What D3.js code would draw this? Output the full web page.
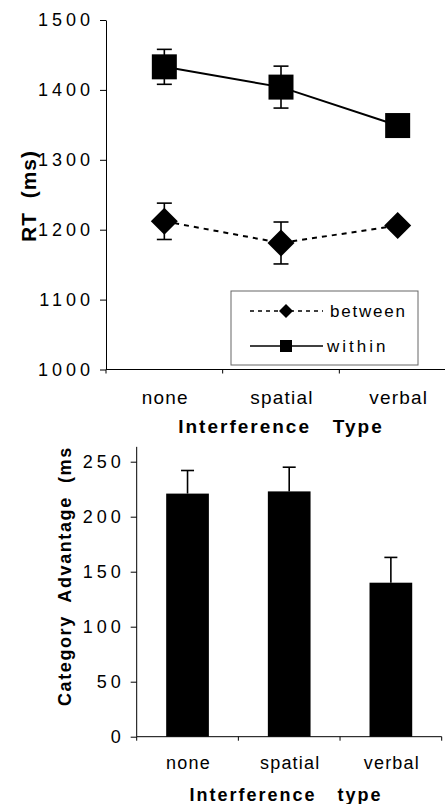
<!DOCTYPE html>
<html><head><meta charset="utf-8">
<script src="https://cdn.jsdelivr.net/npm/d3@7"></script>
<style>
html,body{margin:0;padding:0;background:#fff;}
svg{display:block;font-family:"Liberation Sans",Arial,sans-serif;}
text{white-space:pre;}
</style></head>
<body>
<script>
// ---- data ----
const categories = ["none", "spatial", "verbal"];
const withinRT = [1433, 1404, 1349];
const withinErr = [25, 30, 5];
const betweenRT = [1212, 1181, 1206];
const betweenErr = [26, 30, 7];
const rtTicks = [1000, 1100, 1200, 1300, 1400, 1500];
const advantage = [221, 223, 140];
const advantageErr = [21, 22, 23];
const advTicks = [0, 50, 100, 150, 200, 250];

const W = 445, H = 804;
const svg = d3.select("body").append("svg").attr("width", W).attr("height", H);

const tickFont = {size: 18, ls: 4};

// ================= TOP CHART =================
const topG = svg.append("g");
const x1 = d3.scaleBand().domain(categories).range([106, 456]);
const y1 = d3.scaleLinear().domain([1000, 1500]).range([369.5, 20]);

const ya1 = topG.append("g").attr("transform", "translate(106,0)")
  .call(d3.axisLeft(y1).tickValues(rtTicks).tickSize(6).tickSizeOuter(0).tickFormat(d3.format("d")));
ya1.select(".domain").attr("stroke", "#000");
ya1.selectAll(".tick line").attr("stroke", "#000");
ya1.selectAll(".tick text").attr("x", -12).attr("font-size", tickFont.size)
  .attr("letter-spacing", tickFont.ls).attr("fill", "#000");
ya1.attr("font-family", null).attr("font-size", null);

topG.append("line").attr("x1", 106).attr("x2", W).attr("y1", y1(1000)).attr("y2", y1(1000)).attr("stroke", "#000");
topG.selectAll(".xt").data(categories).enter().append("line")
  .attr("x1", d => x1(d)).attr("x2", d => x1(d))
  .attr("y1", y1(1000)).attr("y2", y1(1000) + 4).attr("stroke", "#000");
topG.selectAll(".xl").data(categories).enter().append("text")
  .attr("x", d => x1(d) + x1.bandwidth() / 2 + 1).attr("y", 404)
  .attr("text-anchor", "middle").attr("font-size", 19).attr("letter-spacing", 1.2)
  .text(d => d);
topG.append("text").attr("x", 281).attr("y", 433).attr("text-anchor", "middle")
  .attr("font-size", 19).attr("font-weight", "bold").attr("letter-spacing", 2)
  .text("Interference   Type");
topG.append("text").attr("transform", "translate(36,196) rotate(-90)")
  .attr("text-anchor", "middle").attr("font-size", 21).attr("font-weight", "bold").attr("letter-spacing", 1)
  .text("RT  (ms)");

const cx = i => x1(categories[i]) + x1.bandwidth() / 2;
const diamond = (r) => `M0,${-r}L${r},0L0,${r}L${-r},0Z`;

function errBars(vals, errs, cap) {
  vals.forEach((v, i) => {
    const g = topG.append("g").attr("stroke", "#000").attr("stroke-width", 1.6);
    g.append("line").attr("x1", cx(i)).attr("x2", cx(i)).attr("y1", y1(v + errs[i])).attr("y2", y1(v - errs[i]));
    g.append("line").attr("x1", cx(i) - cap).attr("x2", cx(i) + cap).attr("y1", y1(v + errs[i])).attr("y2", y1(v + errs[i]));
    g.append("line").attr("x1", cx(i) - cap).attr("x2", cx(i) + cap).attr("y1", y1(v - errs[i])).attr("y2", y1(v - errs[i]));
  });
}
errBars(withinRT, withinErr, 7.5);
errBars(betweenRT, betweenErr, 7.5);

const line = d3.line().x((d, i) => cx(i)).y(d => y1(d));
topG.append("path").datum(withinRT).attr("d", line).attr("fill", "none").attr("stroke", "#000").attr("stroke-width", 2);
topG.append("path").datum(betweenRT).attr("d", line).attr("fill", "none").attr("stroke", "#000").attr("stroke-width", 2).attr("stroke-dasharray", "5,5");

topG.selectAll(".sq").data(withinRT).enter().append("rect")
  .attr("x", (d, i) => cx(i) - 12.5).attr("y", d => y1(d) - 12.5).attr("width", 25).attr("height", 25).attr("fill", "#000");
topG.selectAll(".dm").data(betweenRT).enter().append("path")
  .attr("transform", (d, i) => `translate(${cx(i)},${y1(d)})`).attr("d", diamond(13.5)).attr("fill", "#000");

const lg = topG.append("g");
lg.append("rect").attr("x", 231).attr("y", 291).attr("width", 187).attr("height", 74)
  .attr("fill", "#fff").attr("stroke", "#666").attr("stroke-width", 1);
lg.append("line").attr("x1", 250).attr("x2", 323).attr("y1", 311).attr("y2", 311)
  .attr("stroke", "#000").attr("stroke-width", 1.6).attr("stroke-dasharray", "4,4");
lg.append("path").attr("transform", "translate(286,311)").attr("d", diamond(7)).attr("fill", "#000");
lg.append("text").attr("x", 330).attr("y", 317).attr("font-size", 17).attr("letter-spacing", 1.8).text("between");
lg.append("line").attr("x1", 250).attr("x2", 323).attr("y1", 346).attr("y2", 346)
  .attr("stroke", "#000").attr("stroke-width", 1.6);
lg.append("rect").attr("x", 280).attr("y", 340).attr("width", 12).attr("height", 12).attr("fill", "#000");
lg.append("text").attr("x", 327).attr("y", 352).attr("font-size", 17).attr("letter-spacing", 3).text("within");

// ================= BOTTOM CHART =================
const botG = svg.append("g");
const x2 = d3.scaleBand().domain(categories).range([136.7, 441.7]).paddingInner(0.58).paddingOuter(0.29);
const x2b = d3.scaleBand().domain(categories).range([136.7, 441.7]);
const y2 = d3.scaleLinear().domain([0, 250]).range([736.7, 461.7]);

const ya2 = botG.append("g").attr("transform", "translate(136.7,0)")
  .call(d3.axisLeft(y2).tickValues(advTicks).tickSize(6).tickSizeOuter(0));
ya2.select(".domain").attr("d", `M0,${y2(263.5)}V${y2(0)}`).attr("stroke", "#000");
ya2.selectAll(".tick line").attr("stroke", "#000");
ya2.selectAll(".tick text").attr("x", -12).attr("font-size", tickFont.size)
  .attr("letter-spacing", tickFont.ls).attr("fill", "#000");
ya2.attr("font-family", null).attr("font-size", null);

botG.append("line").attr("x1", 136.7).attr("x2", 441.7).attr("y1", y2(0)).attr("y2", y2(0)).attr("stroke", "#000");
botG.selectAll(".xt").data(categories.concat(["end"])).enter().append("line")
  .attr("x1", (d, i) => 136.7 + i * x2b.bandwidth()).attr("x2", (d, i) => 136.7 + i * x2b.bandwidth())
  .attr("y1", y2(0)).attr("y2", y2(0) + 4).attr("stroke", "#000");

botG.selectAll(".bar").data(advantage).enter().append("rect")
  .attr("x", (d, i) => x2(categories[i])).attr("width", x2.bandwidth())
  .attr("y", d => y2(d)).attr("height", d => y2(0) - y2(d)).attr("fill", "#000");
advantage.forEach((v, i) => {
  const c = x2(categories[i]) + x2.bandwidth() / 2;
  const g = botG.append("g").attr("stroke", "#000").attr("stroke-width", 1.6);
  g.append("line").attr("x1", c).attr("x2", c).attr("y1", y2(v)).attr("y2", y2(v + advantageErr[i]));
  g.append("line").attr("x1", c - 6.5).attr("x2", c + 6.5).attr("y1", y2(v + advantageErr[i])).attr("y2", y2(v + advantageErr[i]));
});

botG.selectAll(".xl").data(categories).enter().append("text")
  .attr("x", d => x2b(d) + x2b.bandwidth() / 2 + 1).attr("y", 769)
  .attr("text-anchor", "middle").attr("font-size", 18).attr("letter-spacing", 1.2)
  .text(d => d);
botG.append("text").attr("x", 286).attr("y", 801).attr("text-anchor", "middle")
  .attr("font-size", 18).attr("font-weight", "bold").attr("letter-spacing", 2)
  .text("Interference   type");

svg.append("defs").append("clipPath").attr("id", "ylclip")
  .append("rect").attr("x", 0).attr("y", 447).attr("width", 140).attr("height", 300);
botG.append("g").attr("clip-path", "url(#ylclip)")
  .append("text").attr("transform", "translate(71,706) rotate(-90)")
  .attr("text-anchor", "start").attr("font-size", 18).attr("font-weight", "bold").attr("letter-spacing", 1.6)
  .text("Category  Advantage  (ms)");
</script>
</body></html>
